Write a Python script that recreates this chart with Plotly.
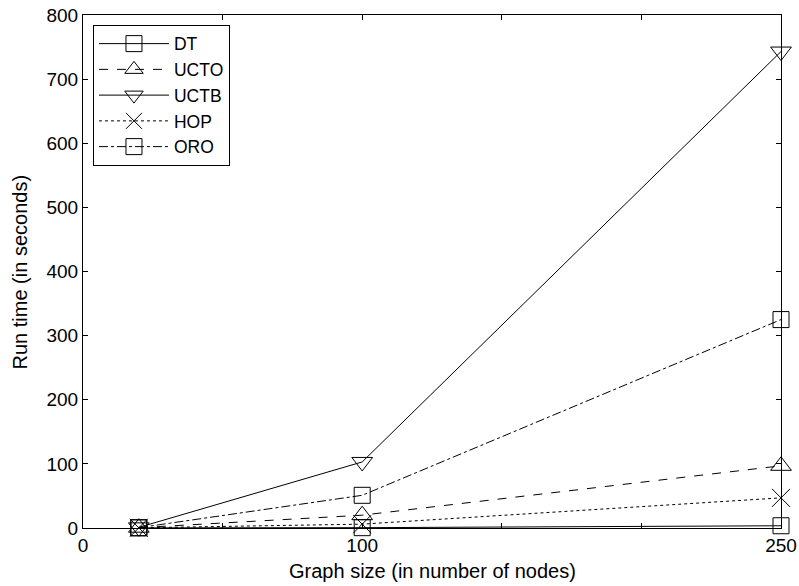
import plotly.graph_objects as go

x_nodes = [20, 100, 250]
dt = [0.2, 0.5, 3.5]
ucto = [0.5, 20, 97]
uctb = [1, 103, 743]
hop = [0.3, 6, 47]
oro = [0.5, 51, 325]

x_tickvals = [0, 50, 100, 150, 200, 250]
x_ticktext = ["0", "", "100", "", "", "250"]
y_tickvals = [0, 100, 200, 300, 400, 500, 600, 700, 800]

series = [
    ("DT", dt, "solid", "square-open", 16),
    ("UCTO", ucto, "dash", "triangle-up-open", 18),
    ("UCTB", uctb, "solid", "triangle-down-open", 18),
    ("HOP", hop, "dot", "x-thin-open", 18),
    ("ORO", oro, "dashdot", "square-open", 16),
]

fig = go.Figure()
for name, vals, dash, sym, size in series:
    fig.add_trace(go.Scatter(
        x=x_nodes, y=vals, name=name, mode="lines+markers",
        line=dict(color="black", width=1, dash=dash),
        marker=dict(symbol=sym, size=size, color="black",
                    line=dict(color="black", width=1)),
        cliponaxis=False,
    ))

font = "Liberation Sans, Arial, Helvetica, sans-serif"
fig.update_layout(
    width=799, height=586,
    margin=dict(l=83, r=18, t=15, b=58, autoexpand=False),
    paper_bgcolor="white", plot_bgcolor="white",
    font=dict(family=font, size=19, color="black"),
    showlegend=True,
    legend=dict(
        x=0.0143, y=0.981, xanchor="left", yanchor="top",
        bordercolor="black", borderwidth=1, bgcolor="white",
        font=dict(size=17.5), itemwidth=70, tracegroupgap=0,
    ),
    xaxis=dict(
        range=[0, 250], tickvals=x_tickvals, ticktext=x_ticktext,
        ticks="inside", ticklen=5, tickcolor="black", tickwidth=1,
        showline=True, linecolor="black", linewidth=1, mirror="ticks",
        showgrid=False, zeroline=False, automargin=False,
        tickfont=dict(size=19),
    ),
    yaxis=dict(
        range=[0, 800], tickvals=y_tickvals,
        ticks="inside", ticklen=5, tickcolor="black", tickwidth=1,
        showline=True, linecolor="black", linewidth=1, mirror="ticks",
        showgrid=False, zeroline=False, automargin=False,
        tickfont=dict(size=19),
    ),
    annotations=[
        dict(
            text="Run time (in seconds)", textangle=-90, showarrow=False,
            xref="paper", yref="paper", x=-0.0903, y=0.5,
            xanchor="center", yanchor="middle", font=dict(size=20),
        ),
        dict(
            text="Graph size (in number of nodes)", showarrow=False,
            xref="paper", yref="paper", x=0.5, y=-0.0837,
            xanchor="center", yanchor="middle", font=dict(size=20),
        ),
    ],
)

fig.write_html("out.html")
